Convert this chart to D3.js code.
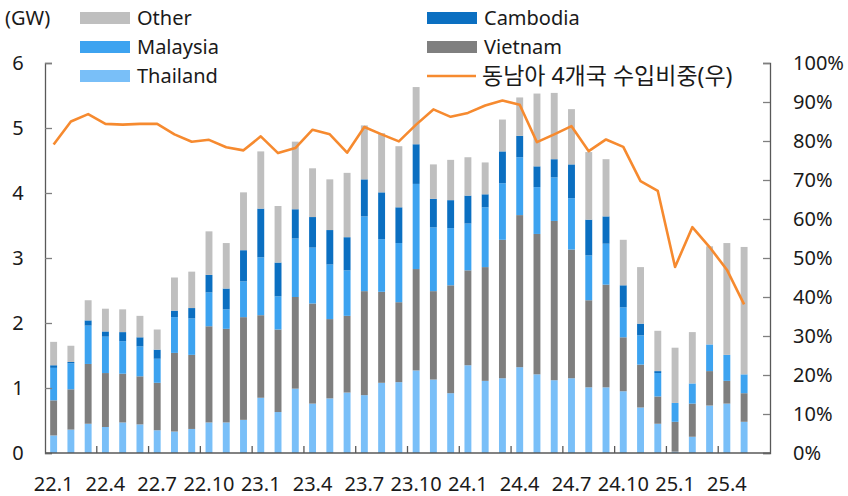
<!DOCTYPE html>
<html>
<head>
<meta charset="utf-8">
<script src="https://cdn.jsdelivr.net/npm/d3@7"></script>
<style>
  body { margin: 0; background: #fff; }
  text { font-family: "Noto Sans", "Noto Sans CJK KR", sans-serif; fill: #1a1a1a; }
</style>
</head>
<body>
<script>
// months on the axis (last slot 25.6 is empty in the source chart)
let months = ["22.1","22.2","22.3","22.4","22.5","22.6","22.7","22.8","22.9","22.10","22.11","22.12",
    "23.1","23.2","23.3","23.4","23.5","23.6","23.7","23.8","23.9","23.10","23.11","23.12",
    "24.1","24.2","24.3","24.4","24.5","24.6","24.7","24.8","24.9","24.10","24.11","24.12",
    "25.1","25.2","25.3","25.4","25.5","25.6"];

// GW per country
let thailand = [0.27,0.36,0.45,0.40,0.47,0.44,0.35,0.33,0.37,0.47,0.47,0.51,0.85,0.63,0.99,0.76,0.84,0.93,0.89,1.08,1.09,1.27,1.13,0.92,1.35,1.11,1.15,1.32,1.21,1.12,1.15,1.01,1.01,0.95,0.70,0.45,0.02,0.25,0.73,0.76,0.48];
let vietnam = [0.54,0.62,0.92,0.83,0.75,0.74,0.73,1.21,1.14,1.48,1.44,1.58,1.27,1.27,1.41,1.54,1.22,1.18,1.60,1.40,1.23,1.56,1.36,1.66,1.46,1.75,2.13,2.34,2.16,2.45,1.98,1.34,1.58,0.83,0.66,0.42,0.46,0.51,0.53,0.35,0.44];
let malaysia = [0.50,0.40,0.59,0.56,0.50,0.46,0.37,0.55,0.56,0.52,0.30,0.55,0.89,0.51,0.90,0.86,0.84,0.70,1.15,0.81,0.91,1.31,0.98,0.88,0.72,0.92,0.87,0.89,0.72,0.67,0.79,0.69,0.63,0.46,0.45,0.36,0.29,0.31,0.41,0.40,0.29];
let cambodia = [0.04,0.02,0.08,0.08,0.14,0.14,0.14,0.10,0.16,0.27,0.32,0.48,0.75,0.52,0.45,0.47,0.53,0.51,0.57,0.72,0.55,0.61,0.44,0.43,0.43,0.20,0.49,0.33,0.32,0.28,0.52,0.55,0.42,0.34,0.18,0.03,0,0,0,0,0];
let other = [0.36,0.25,0.31,0.35,0.35,0.33,0.31,0.51,0.56,0.67,0.70,0.89,0.88,0.87,1.04,0.75,0.78,0.99,0.83,0.91,0.94,0.88,0.53,0.62,0.59,0.49,0.49,0.59,1.12,1.02,0.85,1.04,0.88,0.70,0.87,0.62,0.85,0.79,1.51,1.72,1.96];
// share of the 4 SE Asian countries (%)
let share = [79.1,85.0,86.9,84.4,84.2,84.4,84.4,81.7,79.8,80.3,78.4,77.6,81.2,76.9,78.2,82.9,81.7,77.0,83.6,81.7,79.9,84.2,88.1,86.2,87.2,89.1,90.4,89.3,79.7,81.7,83.8,77.4,80.4,78.5,69.7,67.2,47.7,57.9,52.8,47.0,38.1];

let leftTicks = [0,1,2,3,4,5,6];
let rightTicks = [0,10,20,30,40,50,60,70,80,90,100];

let keys = ["Thailand","Vietnam","Malaysia","Cambodia","Other"];
let colors = {
    Thailand: "#79bff8",
    Vietnam: "#7f7f7f",
    Malaysia: "#3da3f0",
    Cambodia: "#0b6fc1",
    Other: "#bfbfbf"
};
let lineColor = "#f68a2f";

let W = 848, H = 496;
let margin = {top: 63, right: 78, bottom: 43, left: 45};

let svg = d3.select("body").append("svg")
    .attr("width", W)
    .attr("height", H);

let rows = thailand.map(function(d, i){
    return {
        month: months[i],
        Thailand: thailand[i],
        Vietnam: vietnam[i],
        Malaysia: malaysia[i],
        Cambodia: cambodia[i],
        Other: other[i],
        share: share[i]
    };
});

let xScale = d3.scaleBand()
    .domain(months)
    .range([margin.left, W - margin.right])
    .paddingInner(0.6)
    .paddingOuter(0.3);

let yScale = d3.scaleLinear()
    .domain([0, 6])
    .range([H - margin.bottom, margin.top]);

let y2Scale = d3.scaleLinear()
    .domain([0, 100])
    .range([H - margin.bottom, margin.top]);

let stacked = d3.stack().keys(keys)(rows);

// bars
svg.append("g").selectAll("g")
    .data(stacked)
    .enter().append("g")
    .attr("fill", (s) => colors[s.key])
    .selectAll("rect")
    .data((s) => s)
    .enter().append("rect")
    .attr("x", (d) => xScale(d.data.month))
    .attr("width", xScale.bandwidth())
    .attr("y", (d) => yScale(d[1]))
    .attr("height", (d) => Math.max(0, yScale(d[0]) - yScale(d[1])));

// axes
let axisColor = "#595959";
let x0 = margin.left, x1 = W - margin.right, yBase = H - margin.bottom;

let leftAxis = svg.append("g")
    .attr("transform", "translate(" + x0 + ",0)")
    .call(d3.axisLeft(yScale).tickValues(leftTicks).tickSize(-7).tickFormat(d3.format("d")));
let rightAxis = svg.append("g")
    .attr("transform", "translate(" + x1 + ",0)")
    .call(d3.axisRight(y2Scale).tickValues(rightTicks).tickSize(-7)
        .tickFormat((d) => d + "%"));

[leftAxis, rightAxis].forEach(function(a){
    a.select(".domain").attr("stroke", axisColor).attr("stroke-width", 1.3);
    a.selectAll(".tick line").attr("stroke", "#7f7f7f").attr("stroke-width", 1.3);
    a.selectAll(".tick text").style("font-size", "20px").attr("fill", "#1a1a1a");
});
leftAxis.selectAll(".tick text").attr("x", -27).attr("text-anchor", "middle");
rightAxis.selectAll(".tick text").attr("x", 23).attr("text-anchor", "start");

// x axis line + ticks every 3 months
svg.append("line")
    .attr("x1", x0).attr("x2", x1)
    .attr("y1", yBase).attr("y2", yBase)
    .attr("stroke", axisColor).attr("stroke-width", 1.3);

let step = xScale.step();
let tickIdx = d3.range(1, 14).map((k) => k * 3);
svg.append("g").selectAll("line")
    .data(tickIdx)
    .enter().append("line")
    .attr("x1", (i) => xScale(months[i]) - (step - xScale.bandwidth()) / 2)
    .attr("x2", (i) => xScale(months[i]) - (step - xScale.bandwidth()) / 2)
    .attr("y1", yBase).attr("y2", yBase - 7)
    .attr("stroke", axisColor).attr("stroke-width", 1.3);

let labelIdx = d3.range(0, 14).map((k) => k * 3);
svg.append("g").selectAll("text")
    .data(labelIdx)
    .enter().append("text")
    .attr("x", (i) => xScale(months[i]) + xScale.bandwidth() / 2)
    .attr("y", 491)
    .attr("text-anchor", "middle")
    .style("font-size", "20px")
    .text((i) => months[i]);

// share line
let line = d3.line()
    .x((d) => xScale(d.month) + xScale.bandwidth() / 2)
    .y((d) => y2Scale(d.share));

svg.append("path")
    .datum(rows)
    .attr("fill", "none")
    .attr("stroke", lineColor)
    .attr("stroke-width", 2.6)
    .attr("stroke-linejoin", "round")
    .attr("d", line);

// unit label
svg.append("text")
    .attr("x", 5).attr("y", 25)
    .style("font-size", "20px")
    .text("(GW)");

// legend
let legendItems = [
    {name: "Other", col: 0, row: 0},
    {name: "Malaysia", col: 0, row: 1},
    {name: "Thailand", col: 0, row: 2},
    {name: "Cambodia", col: 1, row: 0},
    {name: "Vietnam", col: 1, row: 1}
];
let legX = [80, 427], legY = [18, 47, 76];

let legend = svg.append("g").selectAll("g")
    .data(legendItems)
    .enter().append("g")
    .attr("transform", (d) => "translate(" + legX[d.col] + "," + legY[d.row] + ")");
legend.append("rect")
    .attr("x", 0).attr("y", -6)
    .attr("width", 50).attr("height", 12)
    .attr("fill", (d) => colors[d.name]);
legend.append("text")
    .attr("x", 57).attr("y", 7)
    .style("font-size", "20px")
    .text((d) => d.name);

let lineLeg = svg.append("g")
    .attr("transform", "translate(" + legX[1] + "," + legY[2] + ")");
lineLeg.append("line")
    .attr("x1", 0).attr("x2", 49)
    .attr("stroke", lineColor).attr("stroke-width", 2.6);
lineLeg.append("text")
    .attr("x", 55).attr("y", 8)
    .style("font-size", "23px")
    .text("동남아 4개국 수입비중(우)");
</script>
</body>
</html>
